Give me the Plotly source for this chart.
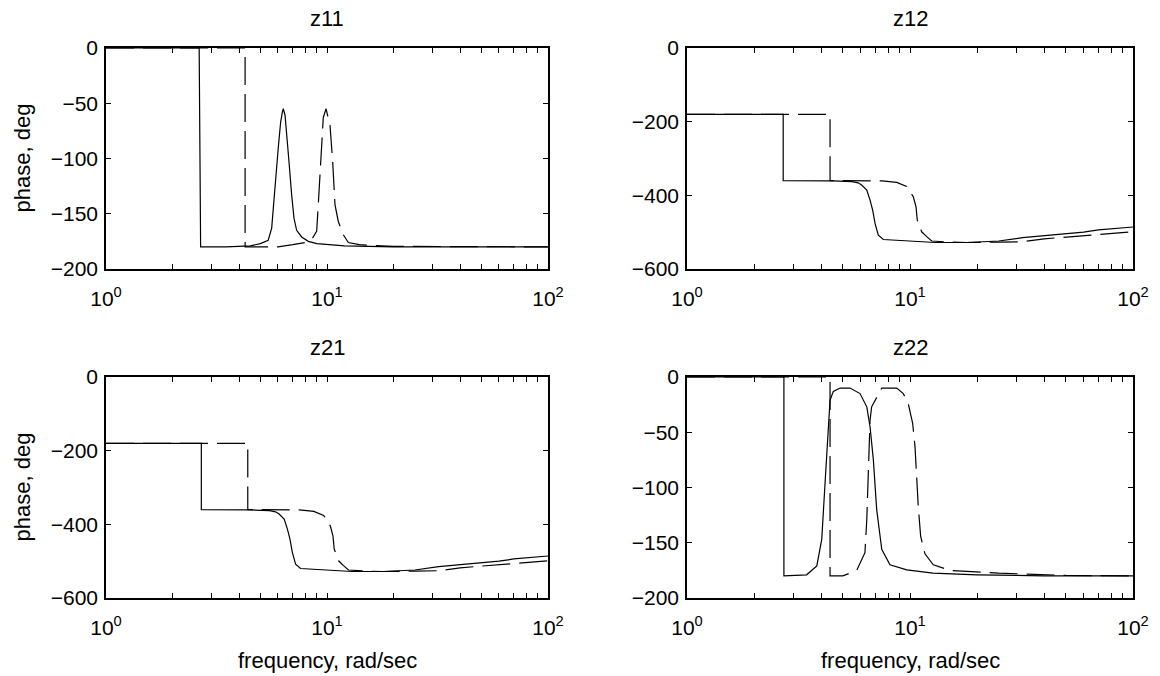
import plotly.graph_objects as go

# ---- frequency / phase data (rad/sec, deg) ----
# z11
z11_solid_f = [1, 2.64, 2.66, 2.68, 3.5, 4.5, 5.0, 5.42, 5.62, 5.75, 5.88, 6.02, 6.17, 6.28, 6.34,
               6.46, 6.57, 6.73, 6.92, 7.09, 7.29, 7.68, 8.23, 9.0, 12, 20, 100]
z11_solid_p = [0, 0, -90, -180, -180, -179, -177, -174, -163, -142, -115, -90, -67, -58, -55,
               -61, -76, -103, -133, -154, -165, -171, -175, -177, -179, -180, -180]
z11_dash_f = [1, 4.26, 4.26, 5, 6, 7, 8, 8.6, 8.98, 9.13, 9.30, 9.46, 9.62, 9.90,
              10.32, 10.61, 10.87, 11.25, 11.85, 12.49, 14, 20, 100]
z11_dash_p = [0, 0, -180, -180, -180, -178, -176, -172, -166, -142, -112, -79, -63, -55,
              -70, -103, -142, -157, -169, -176, -178, -179.5, -180]

# z12 (z21 is identical for this reciprocal network)
z12_solid_f = [1, 2.70, 2.70, 3.5, 4.5, 5.49, 5.85, 6.07, 6.40, 6.62, 6.80, 6.97, 7.21, 7.59,
               8.13, 10, 13, 18, 25, 32, 45, 60, 70, 100]
z12_solid_p = [-180, -180, -360, -360, -361, -363, -366, -372, -386, -413, -440, -476, -508, -520,
               -521, -526, -528, -528, -524, -515, -507, -500, -494, -486]
z12_dash_f = [1, 4.38, 4.38, 6, 7.5, 8.72, 9.66, 10.35, 10.64, 10.78, 11.28, 11.88, 12.51,
              15, 18, 25, 32, 40, 55, 70, 100]
z12_dash_p = [-180, -180, -360, -360, -361, -365, -376, -404, -431, -467, -499, -512, -524,
              -527, -528, -527, -526, -518, -512, -506, -499]

# z22
z22_solid_f = [1, 2.72, 2.72, 3.44, 3.82, 4.02, 4.16, 4.30, 4.38, 4.53, 4.86, 5.38, 5.97, 6.40,
               6.62, 6.85, 7.09, 7.47, 8.13, 9.67, 12.68, 20, 40, 100]
z22_solid_p = [0, 0, -180, -179, -171, -147, -96, -45, -21, -13, -10, -10, -15, -27,
               -45, -75, -120, -156, -170, -174.5, -177.5, -179, -180, -180]
z22_dash_f = [1, 4.38, 4.38, 5.0, 5.77, 6.28, 6.40, 6.50, 6.57, 6.62, 6.73, 6.97, 7.47, 8.72,
              9.33, 9.82, 10.28, 10.53, 10.71, 10.89, 11.16, 11.67, 12.72, 15.11, 25, 50, 100]
z22_dash_p = [0, 0, -180, -180, -175, -159, -129, -93, -63, -39, -27, -21, -10, -10,
              -15, -24, -42, -63, -93, -117, -144, -160, -170, -175, -177.5, -179.5, -180]

panel_titles = ["z11", "z12", "z21", "z22"]
x_tick_vals = [1, 10, 100]
x_tick_text = ["10<sup>0</sup>", "10<sup>1</sup>", "10<sup>2</sup>"]
x_minor_vals = [2, 3, 4, 5, 6, 7, 8, 9, 20, 30, 40, 50, 60, 70, 80, 90]
y_ticks_small = [0, -50, -100, -150, -200]
y_ticks_large = [0, -200, -400, -600]

panels = [
    (z11_solid_f, z11_solid_p, z11_dash_f, z11_dash_p, y_ticks_small),
    (z12_solid_f, z12_solid_p, z12_dash_f, z12_dash_p, y_ticks_large),
    (z12_solid_f, z12_solid_p, z12_dash_f, z12_dash_p, y_ticks_large),
    (z22_solid_f, z22_solid_p, z22_dash_f, z22_dash_p, y_ticks_small),
]

W, H = 1160, 676
# pixel boxes of the four axes: (left, right, top, bottom)
boxes = [(106, 548, 48, 269), (687, 1133, 48, 269),
         (106, 548, 377, 598), (687, 1133, 377, 598)]

FONT = "Liberation Sans, Arial, sans-serif"
TICK_FONT = dict(family=FONT, size=21, color="black")
LABEL_FONT = dict(family=FONT, size=22, color="black")

fig = go.Figure()
annotations = []

for i, ((sf, sp, df, dp, yt), (l, r, t, b), title) in enumerate(zip(panels, boxes, panel_titles)):
    n = "" if i == 0 else str(i + 1)
    xa, ya = "x" + n, "y" + n
    fig.add_trace(go.Scatter(x=sf, y=sp, mode="lines", xaxis=xa, yaxis=ya,
                             line=dict(color="black", width=1.2), showlegend=False))
    fig.add_trace(go.Scatter(x=df, y=dp, mode="lines", xaxis=xa, yaxis=ya,
                             line=dict(color="black", width=1.2, dash="28px,9px"),
                             showlegend=False))
    all_x = x_tick_vals + x_minor_vals
    all_txt = x_tick_text + [""] * len(x_minor_vals)
    fig.layout["xaxis" + n] = dict(
        type="log", range=[0, 2], domain=[l / W, r / W], anchor=ya, automargin=False,
        tickvals=all_x, ticktext=all_txt, ticks="inside", ticklen=5, tickwidth=1,
        tickcolor="black", showline=True, linecolor="black", linewidth=1.5,
        mirror="ticks", showgrid=False, zeroline=False, ticklabelstandoff=10,
        tickfont=TICK_FONT,
    )
    lo = yt[-1]
    fig.layout["yaxis" + n] = dict(
        range=[lo, 0], domain=[1 - b / H, 1 - t / H], anchor=xa, automargin=False,
        tickvals=yt, ticks="inside", ticklen=5, tickwidth=1, tickcolor="black",
        showline=True, linecolor="black", linewidth=1.5, mirror="ticks",
        showgrid=False, zeroline=False, ticklabelstandoff=2,
        tickfont=TICK_FONT,
    )
    cx = (l + r) / 2 / W
    annotations.append(dict(text=title, x=cx, y=1 - (t - 30) / H, xref="paper", yref="paper",
                            xanchor="center", yanchor="middle", showarrow=False,
                            font=LABEL_FONT))
    if i in (0, 2):
        annotations.append(dict(text="phase, deg", x=22 / W, y=1 - (t + b) / 2 / H,
                                xref="paper", yref="paper", textangle=-90,
                                xanchor="center", yanchor="middle", showarrow=False,
                                font=LABEL_FONT))
    if i in (2, 3):
        annotations.append(dict(text="frequency, rad/sec", x=cx, y=1 - 660 / H,
                                xref="paper", yref="paper",
                                xanchor="center", yanchor="middle", showarrow=False,
                                font=LABEL_FONT))

fig.update_layout(
    width=W, height=H, margin=dict(l=0, r=0, t=0, b=0, autoexpand=False),
    paper_bgcolor="white", plot_bgcolor="white",
    annotations=annotations,
)

fig.write_html("out.html")
